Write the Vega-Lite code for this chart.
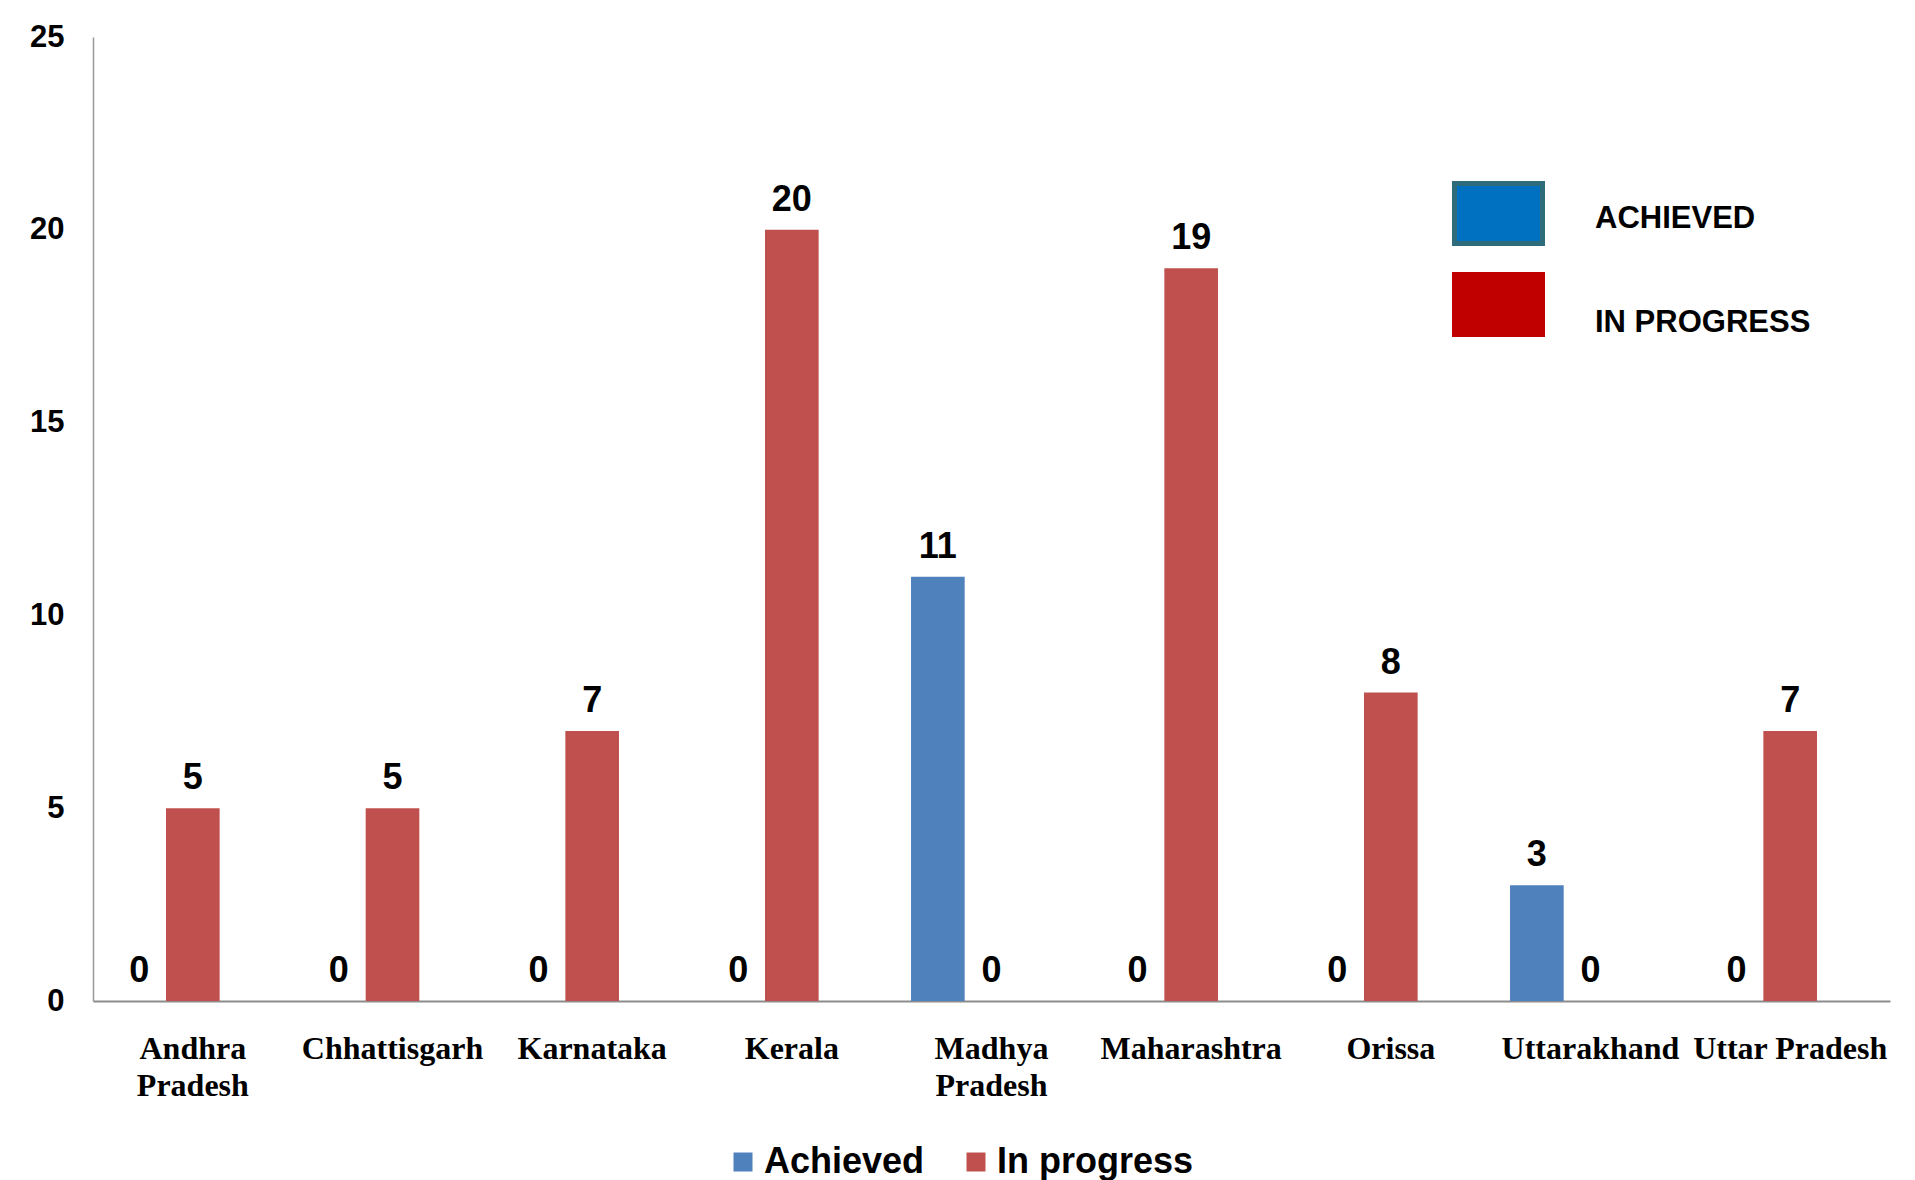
{
  "$schema": "https://vega.github.io/schema/vega-lite/v6.json",
  "width": 1797,
  "height": 964,
  "autosize": {"type": "none"},
  "padding": {"left": 93, "top": 37, "right": 25, "bottom": 179},
  "background": "white",
  "config": {"view": {"stroke": null}, "font": "Liberation Sans"},
  "datasets": {
    "bars": [
      {"State": "Andhra Pradesh", "Series": "Achieved", "Value": 0},
      {"State": "Andhra Pradesh", "Series": "In progress", "Value": 5},
      {"State": "Chhattisgarh", "Series": "Achieved", "Value": 0},
      {"State": "Chhattisgarh", "Series": "In progress", "Value": 5},
      {"State": "Karnataka", "Series": "Achieved", "Value": 0},
      {"State": "Karnataka", "Series": "In progress", "Value": 7},
      {"State": "Kerala", "Series": "Achieved", "Value": 0},
      {"State": "Kerala", "Series": "In progress", "Value": 20},
      {"State": "Madhya Pradesh", "Series": "Achieved", "Value": 11},
      {"State": "Madhya Pradesh", "Series": "In progress", "Value": 0},
      {"State": "Maharashtra", "Series": "Achieved", "Value": 0},
      {"State": "Maharashtra", "Series": "In progress", "Value": 19},
      {"State": "Orissa", "Series": "Achieved", "Value": 0},
      {"State": "Orissa", "Series": "In progress", "Value": 8},
      {"State": "Uttarakhand", "Series": "Achieved", "Value": 3},
      {"State": "Uttarakhand", "Series": "In progress", "Value": 0},
      {"State": "Uttar Pradesh", "Series": "Achieved", "Value": 0},
      {"State": "Uttar Pradesh", "Series": "In progress", "Value": 7}
    ],
    "status": [
      {"Status": "ACHIEVED"},
      {"Status": "IN PROGRESS"}
    ]
  },
  "layer": [
    {
      "data": {"name": "bars"},
      "mark": {"type": "bar"},
      "encoding": {
        "x": {
          "field": "State", "type": "nominal", "sort": null,
          "scale": {"paddingInner": 0.194, "paddingOuter": 0.097},
          "axis": {
            "title": null, "labelAngle": 0, "labelFont": "Liberation Serif", "labelFontSize": 32,
            "labelFontWeight": "bold", "labelColor": "black", "ticks": false, "tickSize": 0,
            "labelPadding": 32, "labelBaseline": "top", "labelLineHeight": 37, "labelLimit": 0,
            "domainColor": "#8c8c8c", "domainWidth": 2,
            "labelExpr": "indexof(['Andhra Pradesh','Madhya Pradesh'], datum.label) >= 0 ? split(datum.label, ' ') : datum.label"
          }
        },
        "xOffset": {
          "field": "Series", "type": "nominal",
          "scale": {"domain": ["Achieved", "In progress", "Other"], "paddingInner": 0, "paddingOuter": 0}
        },
        "y": {
          "field": "Value", "type": "quantitative",
          "scale": {"domain": [0, 25], "nice": false, "zero": true},
          "axis": {
            "title": null, "values": [0, 5, 10, 15, 20, 25], "labelFontSize": 31, "labelFontWeight": "bold",
            "labelColor": "black", "ticks": false, "tickSize": 0, "labelPadding": 29, "grid": false,
            "domainColor": "#999999", "domainWidth": 1.5
          }
        },
        "color": {
          "field": "Series", "type": "nominal",
          "scale": {"domain": ["Achieved", "In progress"], "range": ["#4F81BD", "#C0504D"]},
          "legend": {
            "title": null, "orient": "none", "legendX": 632, "legendY": 1107, "direction": "horizontal",
            "symbolType": "square", "symbolSize": 361, "symbolStrokeWidth": 0, "labelFontSize": 36,
            "labelFontWeight": "bold", "labelColor": "black", "labelOffset": 3, "columnPadding": 33,
            "padding": 0, "labelLimit": 500
          }
        }
      }
    },
    {
      "data": {"name": "bars"},
      "mark": {"type": "text", "fontSize": 36, "fontWeight": "bold", "baseline": "alphabetic", "align": "center", "dy": -19, "color": "black"},
      "encoding": {
        "x": {"field": "State", "type": "nominal", "sort": null},
        "xOffset": {"field": "Series", "type": "nominal"},
        "y": {"field": "Value", "type": "quantitative", "scale": {"domain": [0, 25], "nice": false}},
        "text": {"field": "Value", "type": "quantitative"}
      }
    },
    {
      "data": {"name": "status"},
      "mark": {"type": "bar"},
      "encoding": {
        "y": {"datum": 0, "type": "quantitative", "scale": {"domain": [0, 25], "nice": false}},
        "y2": {"datum": 0},
        "color": {
          "field": "Status", "type": "nominal",
          "scale": {"domain": ["ACHIEVED", "IN PROGRESS"], "range": ["#0070C0", "#C00000"]},
          "legend": {
            "title": null, "orient": "none", "legendX": 1359, "legendY": 130, "direction": "vertical",
            "symbolType": "M-1,-0.682L1,-0.682L1,0.682L-1,0.682Z", "symbolSize": 7744, "symbolStrokeWidth": 5,
            "labelFontSize": 31, "labelFontWeight": "bold", "labelColor": "black", "labelOffset": 50,
            "rowPadding": 4, "padding": 0, "labelLimit": 500,
            "encode": {
              "symbols": {"update": {"stroke": {"signal": "datum.value === 'ACHIEVED' ? '#2E6C7C' : '#C00000'"}}},
              "labels": {"update": {"dy": {"signal": "datum.value === 'IN PROGRESS' ? 18 : 5"}}}
            }
          }
        }
      }
    }
  ],
  "resolve": {"scale": {"color": "independent"}}
}
